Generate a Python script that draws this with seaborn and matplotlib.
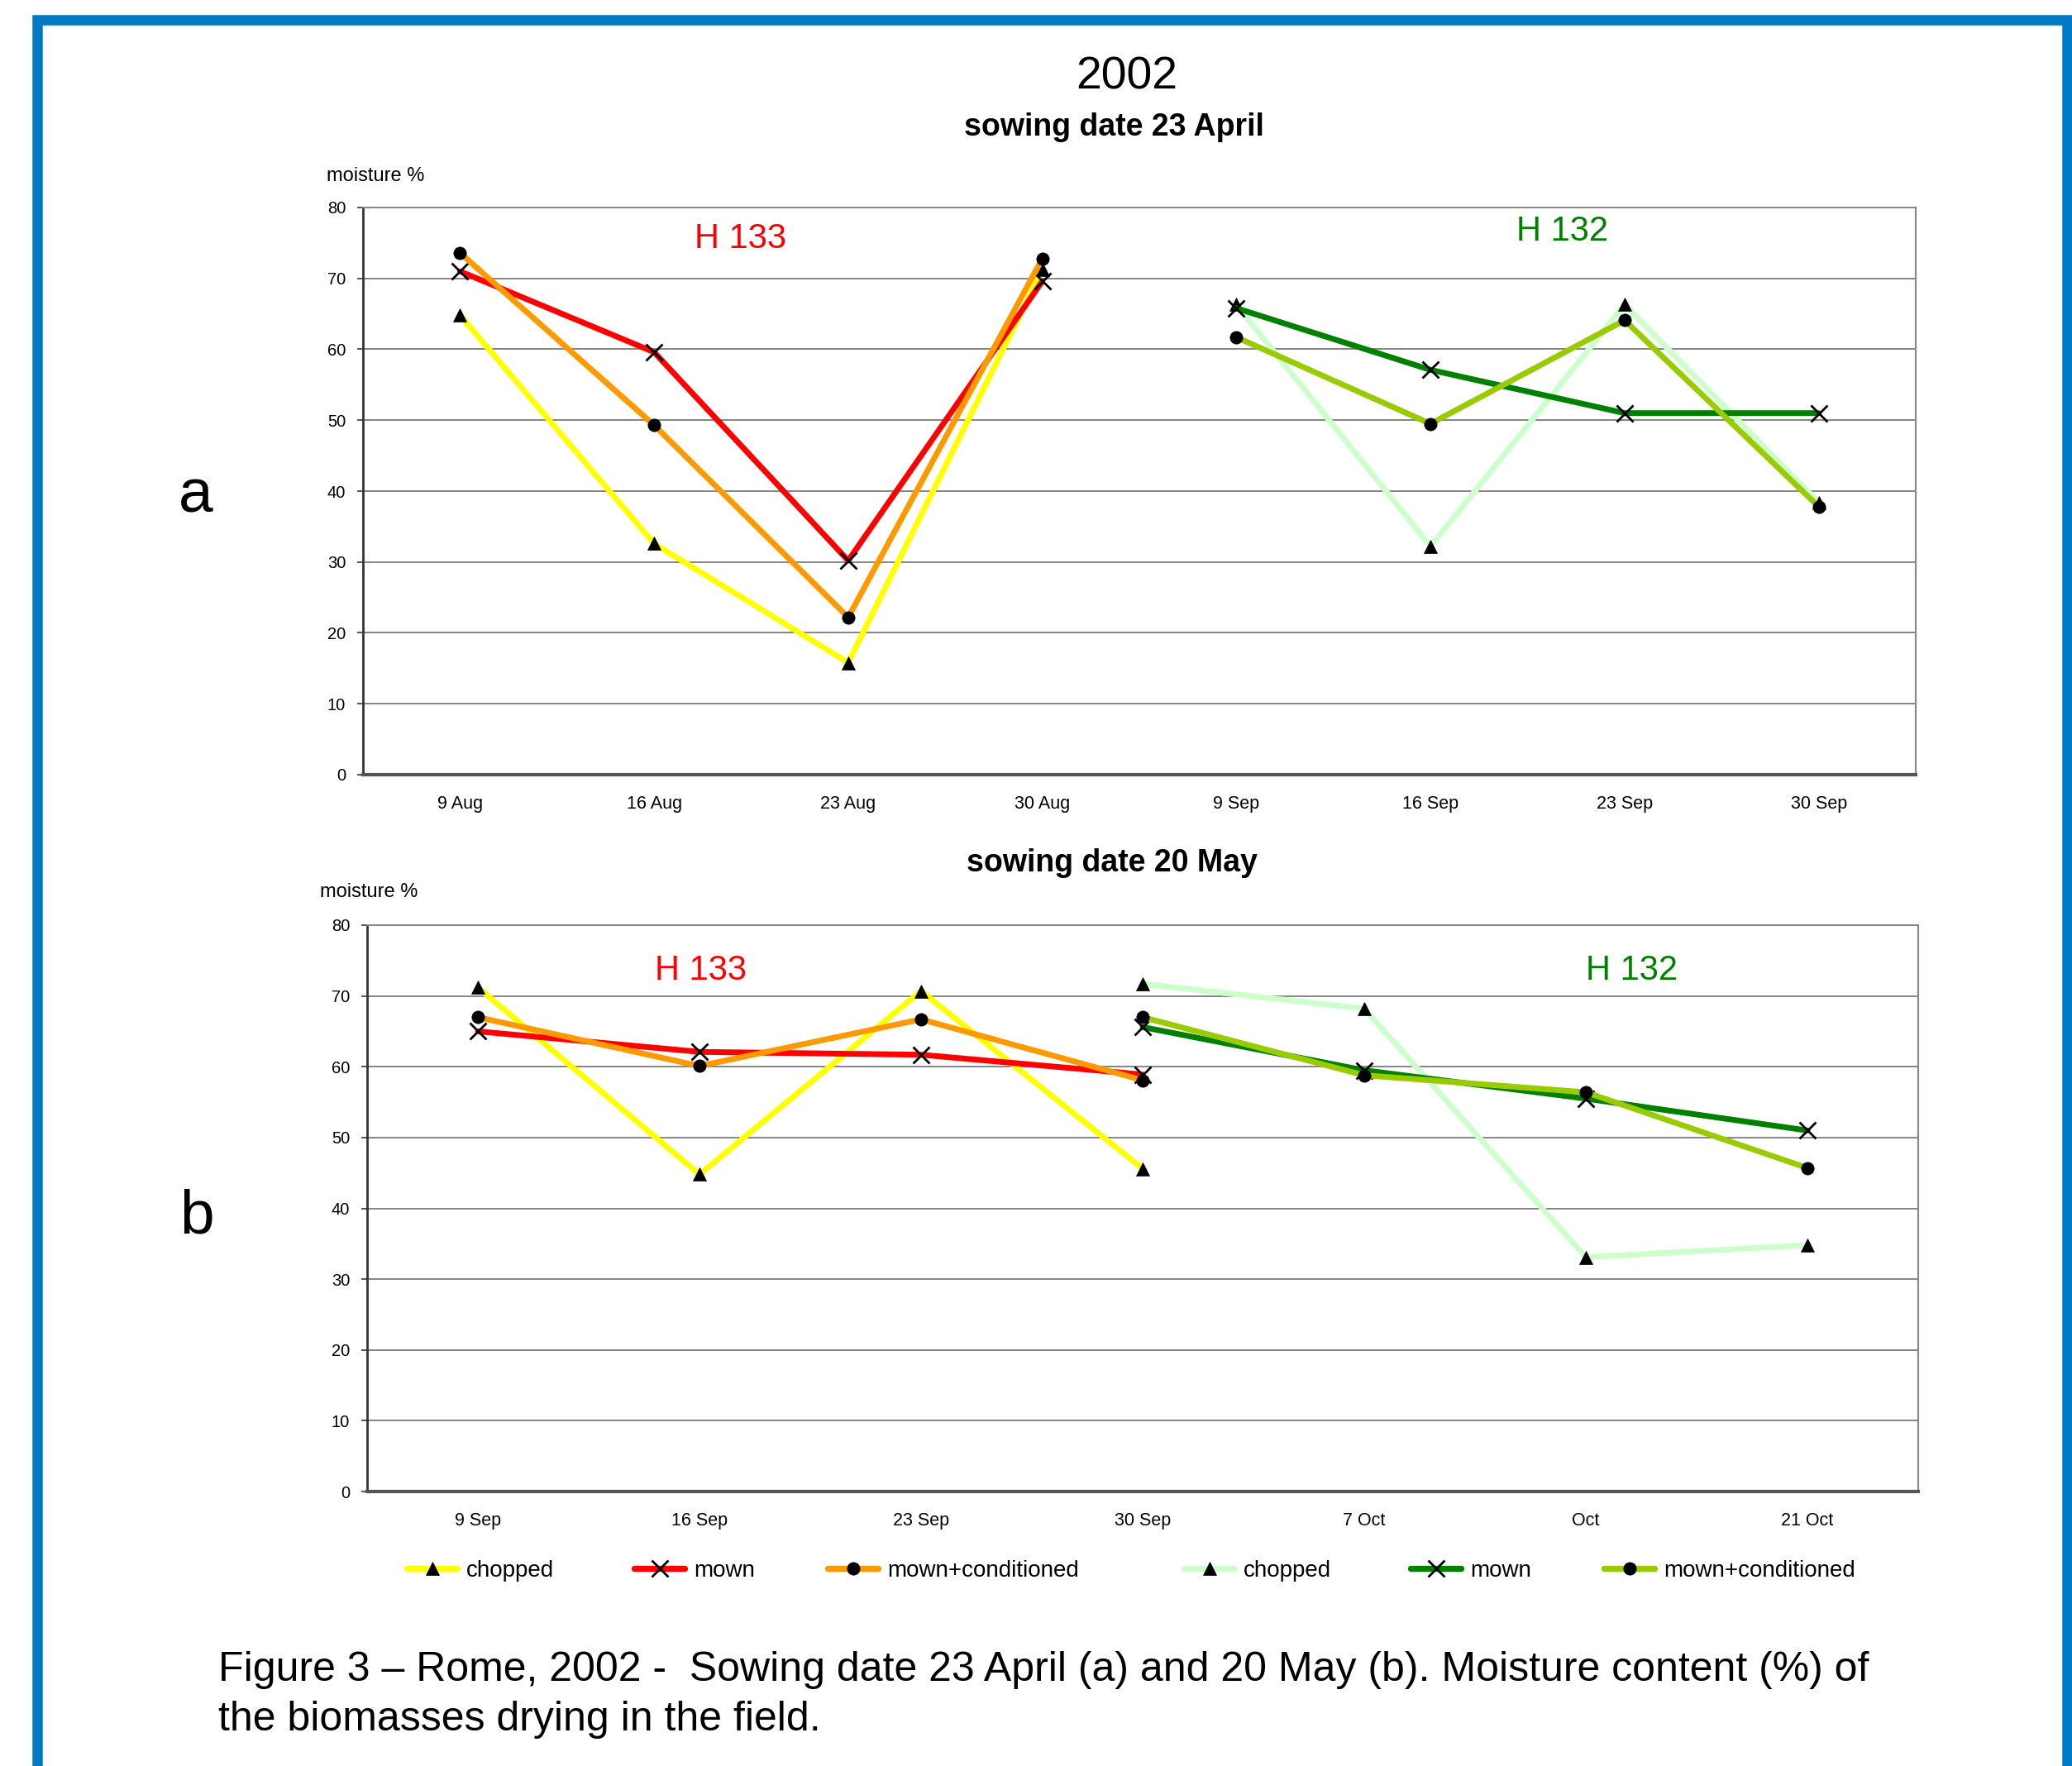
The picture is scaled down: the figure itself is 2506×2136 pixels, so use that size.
import matplotlib
matplotlib.use("Agg")
import matplotlib.pyplot as plt
from matplotlib.lines import Line2D
from matplotlib.patches import Rectangle
import seaborn as sns


# panel a - sowing date 23 April
dates_a = ["9 Aug", "16 Aug", "23 Aug", "30 Aug", "9 Sep", "16 Sep", "23 Sep", "30 Sep"]
a_h133_chopped = [64.8, 32.6, 15.8, 71.2]
a_h133_mown = [71.0, 59.6, 30.2, 69.6]
a_h133_mowncond = [73.6, 49.3, 22.2, 72.8]
a_h132_chopped = [66.3, 32.2, 66.3, 38.4]
a_h132_mown = [65.8, 57.1, 51.0, 51.0]
a_h132_mowncond = [61.7, 49.5, 64.1, 37.8]

# panel b - sowing date 20 May
dates_b = ["9 Sep", "16 Sep", "23 Sep", "30 Sep", "7 Oct", "Oct", "21 Oct"]
b_h133_chopped = [71.2, 44.8, 70.7, 45.6]
b_h133_mown = [65.0, 62.1, 61.7, 58.9]
b_h133_mowncond = [67.0, 60.1, 66.7, 58.1]
b_h132_chopped = [71.7, 68.2, 33.1, 34.8]
b_h132_mown = [65.6, 59.5, 55.5, 51.0]
b_h132_mowncond = [67.0, 58.8, 56.4, 45.7]

series_labels = ["chopped", "mown", "mown+conditioned", "chopped", "mown", "mown+conditioned"]
series_colors = ["#FFFF00", "#FF0000", "#FF9900", "#CCFFCC", "#008000", "#99CC00"]
series_markers = ["^", "x", "o", "^", "x", "o"]

W, H = 2506, 2136


def fx(x):
    return x / W


def fy(y):
    return 1 - y / H


def marker_kw(marker):
    if marker == "x":
        return dict(ms=14, mew=2.0, mec="black", mfc="black")
    return dict(ms=11, mew=0.5, mec="black", mfc="black")


def drawPanel(ax, dates, first_group, second_group):
    n = len(dates)
    half = n - len(second_group[0])
    groups = [(list(range(0, len(first_group[0]))), s) for s in first_group]
    groups += [(list(range(half, n)), s) for s in second_group]
    for index, (positions, values) in enumerate(groups):
        sns.lineplot(x=positions, y=values, ax=ax, color=series_colors[index],
                     linewidth=5.0, marker=series_markers[index], legend=False,
                     **marker_kw(series_markers[index]))
    ax.set_xlim(-0.5, n - 0.5)
    ax.set_ylim(0, 80)
    ax.set_yticks(range(0, 81, 10))
    ax.set_xticks(range(n))
    ax.set_xticklabels(dates)
    ax.set_xlabel("")
    ax.set_ylabel("")
    ax.grid(axis="y", color="#858585", linewidth=1.4)
    ax.grid(axis="x", visible=False)
    ax.set_axisbelow(True)
    ax.spines["left"].set_color("#333333")
    ax.spines["left"].set_linewidth(2)
    ax.spines["bottom"].set_color("#555555")
    ax.spines["bottom"].set_linewidth(3)
    ax.spines["right"].set_color("#8a8a8a")
    ax.spines["right"].set_linewidth(1.6)
    ax.spines["top"].set_color("#858585")
    ax.spines["top"].set_linewidth(1.4)
    ax.tick_params(axis="y", left=True, length=5, width=1.4, color="#555555",
                   pad=10, labelsize=14.5, labelcolor="black")
    ax.tick_params(axis="x", bottom=False, length=0, pad=18, labelsize=15.5,
                   labelcolor="black")


sns.set_theme(style="white")
plt.rcParams["font.family"] = ["Liberation Sans", "DejaVu Sans"]
plt.rcParams["text.color"] = "black"

fig = plt.figure(figsize=(25.06, 21.36), dpi=100)

# blue frame round the figure
fig.patches.append(Rectangle((fx(44.5), fy(2300)), fx(2499.5) - fx(44.5), fy(23.5) - fy(2300),
                             transform=fig.transFigure, fill=False,
                             edgecolor="#0079C4", linewidth=9.0))

ax_a = fig.add_axes([fx(439), fy(937), fx(2317) - fx(439), fy(251) - fy(937)])
drawPanel(ax_a, dates_a,
          [a_h133_chopped, a_h133_mown, a_h133_mowncond],
          [a_h132_chopped, a_h132_mown, a_h132_mowncond])

ax_b = fig.add_axes([fx(444), fy(1804), fx(2320) - fx(444), fy(1119) - fy(1804)])
drawPanel(ax_b, dates_b,
          [b_h133_chopped, b_h133_mown, b_h133_mowncond],
          [b_h132_chopped, b_h132_mown, b_h132_mowncond])

fig.text(fx(1363), fy(108), "2002", ha="center", va="baseline", fontsize=40)
fig.text(fx(1347), fy(164), "sowing date 23 April", ha="center", va="baseline",
         fontsize=27, fontweight="bold")
fig.text(fx(1345), fy(1054), "sowing date 20 May", ha="center", va="baseline",
         fontsize=27, fontweight="bold")
fig.text(fx(395), fy(219), "moisture %", ha="left", va="baseline", fontsize=17)
fig.text(fx(387), fy(1085), "moisture %", ha="left", va="baseline", fontsize=17)

fig.text(fx(895), fy(300), "H 133", ha="center", va="baseline", fontsize=30, color="#FF0000")
fig.text(fx(1890), fy(291), "H 132", ha="center", va="baseline", fontsize=30, color="#008000")
fig.text(fx(847), fy(1185), "H 133", ha="center", va="baseline", fontsize=30, color="#FF0000")
fig.text(fx(1974), fy(1185), "H 132", ha="center", va="baseline", fontsize=30, color="#008000")

fig.text(fx(237), fy(620), "a", ha="center", va="baseline", fontsize=54)
fig.text(fx(238), fy(1491), "b", ha="center", va="baseline", fontsize=54)

# legend, one entry per slot so the spacing follows the original
legend_x = [492, 767, 1001, 1432, 1706, 1940]
for index, label in enumerate(series_labels):
    handle = Line2D([], [], color=series_colors[index], linewidth=5.3,
                    marker=series_markers[index], **marker_kw(series_markers[index]))
    fig.legend(handles=[handle], labels=[label], loc="center left",
               bbox_to_anchor=(fx(legend_x[index]), fy(1900)), frameon=False,
               fontsize=20, handlelength=2.2, handletextpad=0.4,
               borderpad=0, borderaxespad=0)

fig.text(fx(264), fy(2033),
         "Figure 3 \u2013 Rome, 2002 -  Sowing date 23 April (a) and 20 May (b). Moisture content (%) of",
         ha="left", va="baseline", fontsize=36)
fig.text(fx(264), fy(2093), "the biomasses drying in the field.",
         ha="left", va="baseline", fontsize=36)

fig.savefig("out.png", dpi=100)
